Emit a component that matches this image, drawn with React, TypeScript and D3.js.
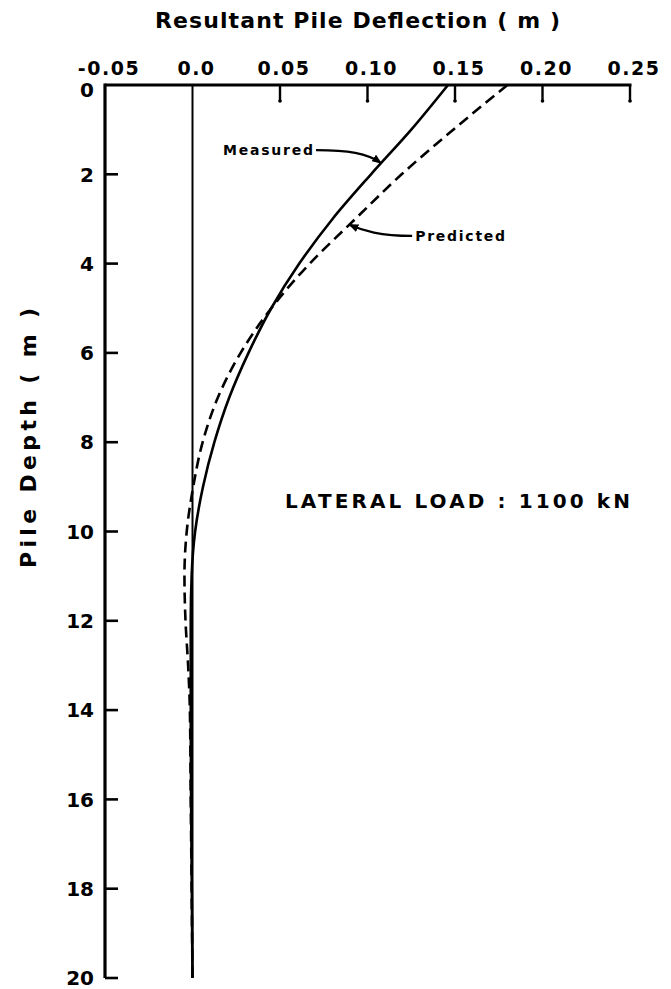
import React from "react";
import * as d3 from "d3";

// ---- data ----
const depthMeasured = [0, 1, 2, 3, 4, 5, 6, 7, 8, 9, 10, 11, 12, 14, 16, 18, 20];
const measuredDefl = [0.146, 0.125, 0.102, 0.08, 0.061, 0.045, 0.032, 0.021, 0.0125, 0.006, 0.0015, -0.0005, -0.001, -0.001, -0.0008, -0.0004, 0];

const depthPredicted = [0, 1, 2, 3, 4, 5, 6, 7, 8, 9, 10, 11, 12, 13, 14, 16, 18, 20];
const predictedDefl = [0.18, 0.149, 0.1195, 0.093, 0.067, 0.045, 0.0275, 0.0145, 0.0058, 0.0004, -0.0033, -0.0046, -0.004, -0.0025, -0.0015, -0.001, -0.0005, 0];

const xTickValues = [-0.05, 0.0, 0.05, 0.1, 0.15, 0.2, 0.25];
const xTickLabels = ["-0.05", "0.0", "0.05", "0.10", "0.15", "0.20", "0.25"];
const yTickValues = [0, 2, 4, 6, 8, 10, 12, 14, 16, 18, 20];

const W = 671;
const H = 989;
const FONT = "'DejaVu Sans', sans-serif";

export default function App() {
  const x = d3.scaleLinear().domain([-0.05, 0.25]).range([105, 630]);
  const y = d3.scaleLinear().domain([0, 20]).range([85, 978]);

  const line = d3
    .line<[number, number]>()
    .x((d) => x(d[1]))
    .y((d) => y(d[0]))
    .curve(d3.curveMonotoneY);

  const measuredPts = depthMeasured.map((d, i) => [d, measuredDefl[i]] as [number, number]);
  const predictedPts = depthPredicted.map((d, i) => [d, predictedDefl[i]] as [number, number]);

  const measuredAt = d3.scaleLinear().domain(depthMeasured).range(measuredDefl);
  const predictedAt = d3.scaleLinear().domain(depthPredicted).range(predictedDefl);

  // annotation anchors (data units)
  const mTipD = 1.75;
  const mTip = [x(measuredAt(mTipD)), y(mTipD)];
  const mStart = [x(0.0706), y(1.46)];
  const mPath = `M${mStart[0]},${mStart[1]} C${mStart[0] + 32},${mStart[1]} ${mTip[0] - 14},${mTip[1] - 10} ${mTip[0]},${mTip[1]}`;

  const pTipD = 3.13;
  const pTip = [x(predictedAt(pTipD)), y(pTipD)];
  const pStart = [x(0.1255), y(3.38)];
  const pPath = `M${pStart[0]},${pStart[1]} C${pStart[0] - 32},${pStart[1]} ${pTip[0] + 14},${pTip[1] + 6} ${pTip[0]},${pTip[1]}`;

  const x0 = x(-0.05);
  const xEnd = x(0.25);
  const yTop = y(0);
  const yBot = y(20);

  return (
    <svg
      width={W}
      height={H}
      viewBox={`0 0 ${W} ${H}`}
      style={{ position: "absolute", left: 0, top: 0, display: "block", background: "#fff" }}
    >
      <defs>
        <marker id="arr" viewBox="0 0 10 8" refX="9" refY="4" markerWidth="10" markerHeight="8" markerUnits="userSpaceOnUse" orient="auto">
          <path d="M0,0 L10,4 L0,8 z" fill="#000" />
        </marker>
      </defs>

      {/* title */}
      <text x={155} y={28} fontFamily={FONT} fontWeight="bold" fontSize={22} textLength={405} lengthAdjust="spacing" fill="#000">
        Resultant Pile Deflection ( m )
      </text>

      {/* y axis title */}
      <text
        transform={`translate(36,438) rotate(-90)`}
        textAnchor="middle"
        fontFamily={FONT}
        fontWeight="bold"
        fontSize={22}
        textLength={260}
        lengthAdjust="spacing"
        fill="#000"
      >
        Pile Depth ( m )
      </text>

      {/* x tick labels */}
      {xTickValues.map((v, i) => (
        <text key={"xl" + i} x={x(v) + 4} y={75} textAnchor="middle" fontFamily={FONT} fontWeight="bold" fontSize={19} letterSpacing={1.5} fill="#000">
          {xTickLabels[i]}
        </text>
      ))}

      {/* y tick labels */}
      {yTickValues.map((v) => (
        <text key={"yl" + v} x={x0 - 11} y={v === 0 ? y(v) + 5 : y(v)} dy="0.36em" textAnchor="end" fontFamily={FONT} fontWeight="bold" fontSize={20} fill="#000">
          {v}
        </text>
      ))}

      {/* axes */}
      <line x1={x0} y1={yTop} x2={xEnd + 1.5} y2={yTop} stroke="#000" strokeWidth={3.2} />
      <line x1={x0} y1={yTop - 1.5} x2={x0} y2={yBot} stroke="#000" strokeWidth={3.2} />

      {/* top ticks */}
      {xTickValues
        .filter((v) => v > 0.001)
        .map((v) => (
          <g key={"xt" + v}>
            <line x1={x(v)} y1={yTop} x2={x(v)} y2={yTop + 17} stroke="#000" strokeWidth={2.4} />
            <circle cx={x(v)} cy={yTop + 16} r={1.8} fill="#000" />
          </g>
        ))}

      {/* left ticks */}
      {yTickValues
        .filter((v) => v > 0)
        .map((v) => (
          <line key={"yt" + v} x1={x0} y1={y(v)} x2={x0 + 13} y2={y(v)} stroke="#000" strokeWidth={2.6} />
        ))}

      {/* pile (zero) line */}
      <line x1={x(0)} y1={yTop} x2={x(0)} y2={yBot} stroke="#000" strokeWidth={2} />

      {/* curves */}
      <path d={line(measuredPts) || ""} fill="none" stroke="#000" strokeWidth={2.6} />
      <path d={line(predictedPts) || ""} fill="none" stroke="#000" strokeWidth={2.6} strokeDasharray="11 6" />

      {/* annotations */}
      <text x={mStart[0] - 3} y={mStart[1] + 5} textAnchor="end" fontFamily={FONT} fontWeight="bold" fontSize={14} textLength={90} lengthAdjust="spacing" fill="#000">
        Measured
      </text>
      <path d={mPath} fill="none" stroke="#000" strokeWidth={2.2} markerEnd="url(#arr)" />

      <text x={pStart[0] + 3} y={pStart[1] + 5} fontFamily={FONT} fontWeight="bold" fontSize={14} textLength={90} lengthAdjust="spacing" fill="#000">
        Predicted
      </text>
      <path d={pPath} fill="none" stroke="#000" strokeWidth={2.2} markerEnd="url(#arr)" />

      <text x={285} y={508} fontFamily={FONT} fontWeight="bold" fontSize={20} textLength={345} lengthAdjust="spacing" fill="#000">
        LATERAL LOAD : 1100 kN
      </text>
    </svg>
  );
}
